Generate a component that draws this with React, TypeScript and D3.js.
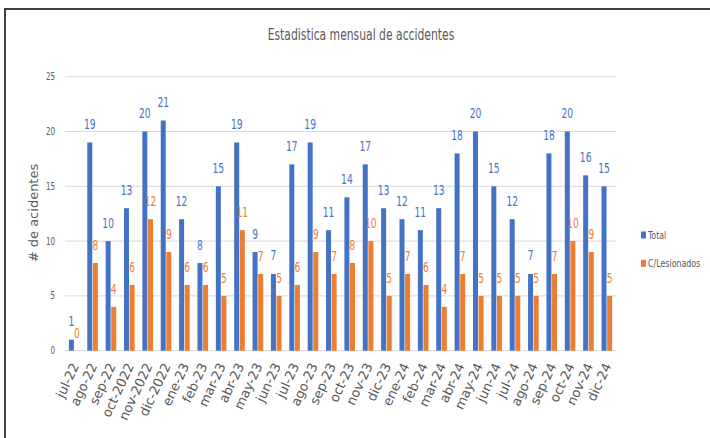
import React from "react";
import * as d3 from "d3";

const categories = ["jul-22","ago-22","sep-22","oct-2022","nov-2022","dic-2022","ene-23","feb-23","mar-23","abr-23","may-23","jun-23","jul-23","ago-23","sep-23","oct-23","nov-23","dic-23","ene-24","feb-24","mar-24","abr-24","may-24","jun-24","jul-24","ago-24","sep-24","oct-24","nov-24","dic-24"];
const totalValues = [1,19,10,13,20,21,12,8,15,19,9,7,17,19,11,14,17,13,12,11,13,18,20,15,12,7,18,20,16,15];
const lesionadosValues = [0,8,4,6,12,9,6,6,5,11,7,5,6,9,7,8,10,5,7,6,4,7,5,5,5,5,7,10,9,5];
const yTicks = [0,5,10,15,20,25];
const seriesNames = ["Total","C/Lesionados"];
const titleText = "Estadistica mensual de accidentes";
const yTitle = "# de acidentes";

const BLUE = "#4472C4";
const ORANGE = "#ED7D31";
const GRAY = "#595959";
const NARROW = "'DejaVu Sans Condensed', sans-serif";
const WIDE = "'DejaVu Sans', sans-serif";

export default function App() {
  const W = 710, H = 438;
  const left = 65, right = 616, top = 76.7, bottom = 350.7;
  const x = d3.scaleBand<string>().domain(categories).range([left, right]).padding(0);
  const y = d3.scaleLinear().domain([0, 25]).range([bottom, top]);
  const bw = x.bandwidth();
  const barW = 5;
  const blueOff = 3.9;
  const orangeOff = 9.5;
  return (
    <div style={{ position: "absolute", left: 0, top: 0 }}>
      <svg width={W} height={H} style={{ display: "block", background: "#fff" }}>
        <rect x={5} y={9} width={W} height={H + 10} fill="#fff" stroke="#404040" strokeWidth={2} />
        <text transform="translate(361,40) scale(0.8,1)" textAnchor="middle" fontFamily={NARROW} fontSize={15} fill={GRAY}>{titleText}</text>
        {yTicks.map(t => (
          <g key={t}>
            <line x1={left} x2={right} y1={y(t)} y2={y(t)} stroke="#d9d9d9" strokeWidth={1} />
            <text transform={`translate(55,${y(t) + 3.5}) scale(0.75,1)`} textAnchor="end" fontFamily={NARROW} fontSize={10.5} fill={GRAY}>{t}</text>
          </g>
        ))}
        <text transform={`translate(38,${213}) rotate(-90)`} textAnchor="middle" fontFamily={WIDE} fontSize={13} fill={GRAY}>{yTitle}</text>
        {categories.map((c, i) => {
          const x0 = x(c)!;
          const tv = totalValues[i];
          const lv = lesionadosValues[i];
          return (
            <g key={c}>
              <rect x={x0 + blueOff} y={y(tv)} width={barW} height={y(0) - y(tv)} fill={BLUE} />
              <rect x={x0 + orangeOff} y={y(lv)} width={barW} height={y(0) - y(lv)} fill={ORANGE} />
              <text transform={`translate(${x0 + blueOff + barW / 2},${y(tv) - 13.5}) scale(0.75,1)`} textAnchor="middle" fontFamily={NARROW} fontSize={13.5} fill={BLUE}>{tv}</text>
              <text transform={`translate(${x0 + orangeOff + barW / 2},${y(lv) - 13}) scale(0.75,1)`} textAnchor="middle" fontFamily={NARROW} fontSize={13.5} fill={ORANGE}>{lv}</text>
              <text transform={`translate(${x0 + bw / 2 + 5},${bottom + 15}) rotate(-65)`} textAnchor="end" fontFamily={WIDE} fontSize={13} fill={GRAY}>{c}</text>
            </g>
          );
        })}
        {seriesNames.map((s, i) => (
          <g key={s}>
            <rect x={641} y={231.5 + i * 28.3} width={5} height={7} fill={i === 0 ? BLUE : ORANGE} />
            <text transform={`translate(648,${239 + i * 28.3}) scale(0.8,1)`} fontFamily={NARROW} fontSize={11} fill={GRAY}>{s}</text>
          </g>
        ))}
      </svg>
    </div>
  );
}
